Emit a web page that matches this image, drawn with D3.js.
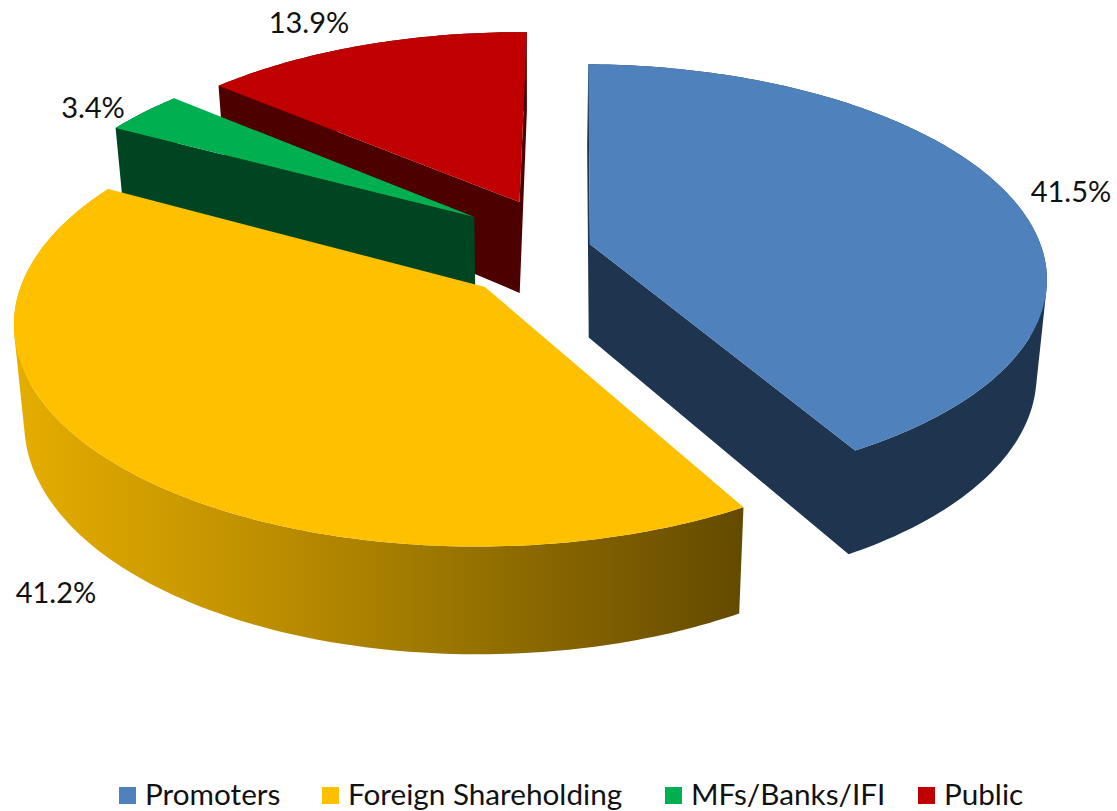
<!DOCTYPE html>
<html><head><meta charset="utf-8">
<style>html,body{margin:0;padding:0;background:#fff;overflow:hidden}svg{display:block}text{font-family:Lato,"Open Sans",sans-serif;fill:#111}</style>
<script src="https://cdn.jsdelivr.net/npm/d3@7/dist/d3.min.js"></script>
</head><body><svg id="c" width="1117" height="811"></svg>
<script>
const categories=["Promoters","Foreign Shareholding","MFs/Banks/IFI","Public"];
const shares=[41.5,41.2,3.4,13.9];
const topColors=["#4F81BD","#FFC000","#00B050","#C00000"];
const sideColors=["#1F344F","url(#goldWall)","#004522","#4D0000"];
// camera and explosion of each slice on the pie's plane
const cam={cx:530,cy:255,A:454,B:210,k:0.15,conv:0.98};
const explodeX=[0.133,-0.097,-0.126,-0.024];
const explodeY=[0.052,-0.149,0.186,0.262];
const labelX=[1071,56,93,309];
const labelY=[190,591,106,21];
const legendSwatchX=[119,322,665,918];
const rotation=0.9*Math.PI/180;

const svg=d3.select("#c");
const defs=svg.append("defs");
const g=defs.append("linearGradient").attr("id","goldWall").attr("gradientUnits","userSpaceOnUse")
 .attr("x1",12).attr("x2",742).attr("y1",0).attr("y2",0);
[[0,"#E6AE00"],[0.3,"#C49300"],[0.6,"#9A7500"],[1,"#644A00"]].forEach(s=>g.append("stop").attr("offset",s[0]).attr("stop-color",s[1]));

function project(X,Y,bottom){
  const w=1+cam.k*Y;
  let x=cam.cx+cam.A*X/w, y=cam.cy-cam.B*Y/w;
  if(bottom){x=cam.cx+(x-cam.cx)*cam.conv; y+=94-12*Y;}
  return [x,y];
}
const line=d3.line();
const pie=d3.pie().sort(null).value(d=>d).startAngle(rotation).endAngle(2*Math.PI+rotation)(shares);
function rim(d,i,bottom){
  const n=Math.max(8,Math.ceil((d.endAngle-d.startAngle)*60));
  return d3.range(n+1).map(j=>{
    const a=d.startAngle+(d.endAngle-d.startAngle)*j/n;
    return project(explodeX[i]+Math.sin(a),explodeY[i]+Math.cos(a),bottom);
  });
}
// every quad wound the same way, so one path fills their union without seams
const quadPath=q=>line(d3.polygonArea(q)<0?q.slice().reverse():q)+"Z";
const order=[3,2,1,0];
order.forEach(i=>{
  const d=pie[i];
  const top=rim(d,i,false), bot=rim(d,i,true);
  const A=project(explodeX[i],explodeY[i],false), Ab=project(explodeX[i],explodeY[i],true);
  const layer=svg.append("g").attr("class","slice");
  const quads=d3.range(top.length-1).map(j=>[top[j],top[j+1],bot[j+1],bot[j]]);
  const startFace=[A,top[0],bot[0],Ab], endFace=[A,top[top.length-1],bot[bot.length-1],Ab];
  if(d3.polygonArea(startFace)>0) quads.push(startFace);
  if(d3.polygonArea(endFace)<0) quads.push(endFace);
  layer.append("path").attr("d",quads.map(quadPath).join("")).attr("fill",sideColors[i]);
  layer.append("path").attr("d",line([A].concat(top))+"Z").attr("fill",topColors[i]);
});
const pct=d3.format(".1f");
svg.selectAll("text.lab").data(shares).join("text").attr("class","lab")
 .attr("x",(d,i)=>labelX[i]).attr("y",(d,i)=>labelY[i]).attr("text-anchor","middle").attr("dominant-baseline","central")
 .attr("font-size",29).text(d=>pct(d)+"%");
const leg=svg.selectAll("g.leg").data(categories).join("g").attr("class","leg");
leg.append("rect").attr("x",(d,i)=>legendSwatchX[i]).attr("y",787).attr("width",17).attr("height",17).attr("fill",(d,i)=>topColors[i]);
leg.append("text").attr("x",(d,i)=>legendSwatchX[i]+26).attr("y",805).attr("font-size",29.7).text(d=>d);
</script></body></html>
